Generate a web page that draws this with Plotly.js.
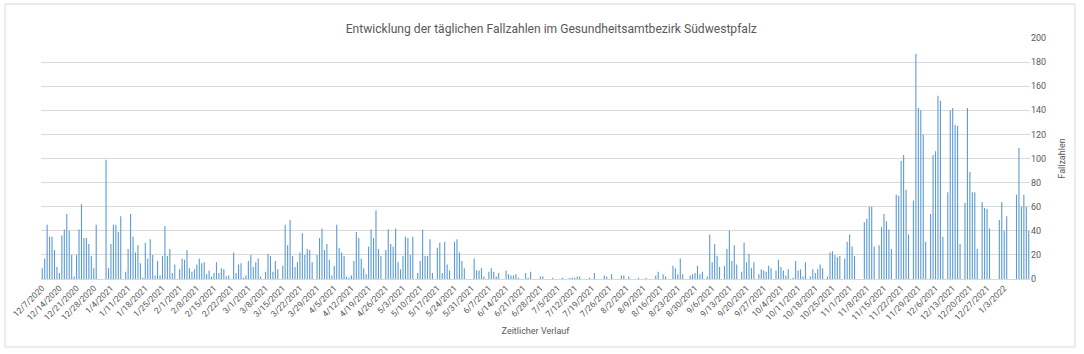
<!DOCTYPE html>
<html>
<head>
<meta charset="utf-8">
<script src="https://cdn.plot.ly/plotly-3.0.1.min.js"></script>
<style>
  html, body { margin: 0; padding: 0; background: #ffffff; }
  #chart { width: 1084px; height: 354px; }
</style>
</head>
<body>
<div id="chart"></div>
<script>
// First reporting day; one bar per day follows it.
const startYear = 2020, startMonth = 12, startDay = 7;

// Daily case numbers, one row per week (Mon..Sun)
const dailyCases = [
  9, 17, 45, 35, 35, 24, 10,
  5, 36, 41, 54, 40, 20, 2,
  20, 41, 62, 34, 34, 29, 19,
  9, 45, 0, 0, 0, 99, 9,
  29, 45, 45, 39, 52, 0, 6,
  25, 54, 35, 22, 28, 13, 1,
  30, 17, 33, 20, 3, 15, 3,
  19, 44, 19, 25, 5, 12, 0,
  8, 17, 16, 24, 9, 6, 8,
  12, 17, 13, 14, 4, 7, 2,
  5, 14, 5, 9, 8, 2, 3,
  0, 22, 5, 12, 13, 1, 3,
  15, 20, 10, 14, 17, 2, 0,
  6, 21, 19, 6, 15, 8, 0,
  11, 45, 28, 49, 19, 10, 14,
  22, 38, 20, 25, 24, 14, 0,
  20, 34, 42, 24, 29, 16, 3,
  11, 45, 26, 22, 19, 2, 1,
  3, 15, 39, 34, 17, 9, 4,
  27, 41, 34, 57, 25, 19, 0,
  24, 41, 29, 27, 42, 14, 8,
  19, 35, 34, 20, 35, 0, 5,
  15, 41, 19, 19, 33, 5, 0,
  26, 30, 5, 31, 12, 7, 0,
  31, 33, 22, 15, 9, 0, 0,
  0, 17, 7, 7, 9, 2, 0,
  6, 9, 6, 2, 5, 0, 0,
  7, 4, 3, 3, 4, 1, 0,
  0, 5, 1, 6, 0, 0, 0,
  2, 2, 0, 0, 0, 1, 0,
  0, 0, 1, 0, 0, 1, 1,
  1, 2, 2, 0, 0, 0, 1,
  0, 5, 0, 0, 0, 3, 2,
  0, 4, 0, 0, 0, 3, 3,
  0, 2, 0, 0, 0, 1, 0,
  0, 1, 0, 0, 0, 3, 6,
  0, 4, 2, 0, 0, 11, 9,
  4, 17, 4, 0, 0, 3, 4,
  5, 11, 4, 6, 0, 2, 37,
  14, 29, 19, 10, 0, 11, 25,
  40, 15, 28, 12, 0, 6, 30,
  14, 21, 9, 14, 0, 4, 8,
  7, 6, 11, 9, 0, 7, 16,
  10, 7, 3, 8, 0, 1, 15,
  7, 8, 2, 14, 0, 2, 8,
  5, 8, 12, 9, 0, 2, 22,
  23, 20, 18, 19, 0, 17, 31,
  37, 27, 19, 0, 0, 0, 47,
  50, 60, 60, 27, 0, 28, 43,
  54, 48, 41, 25, 0, 70, 69,
  98, 103, 74, 37, 0, 65, 187,
  142, 140, 120, 31, 0, 54, 103,
  106, 152, 148, 35, 0, 72, 140,
  142, 128, 127, 29, 0, 63, 142,
  89, 72, 72, 25, 0, 64, 59,
  58, 42, 0, 0, 0, 49, 64,
  40, 52, 0, 0, 0, 70, 109,
  60, 70, 60, 40
];

// Weekly tick labels shown on the category axis
const tickLabels = [
  '12/7/2020', '12/14/2020', '12/21/2020', '12/28/2020', '1/4/2021', '1/11/2021',
  '1/18/2021', '1/25/2021', '2/1/2021', '2/8/2021', '2/15/2021', '2/22/2021',
  '3/1/2021', '3/8/2021', '3/15/2021', '3/22/2021', '3/29/2021', '4/5/2021',
  '4/12/2021', '4/19/2021', '4/26/2021', '5/3/2021', '5/10/2021', '5/17/2021',
  '5/24/2021', '5/31/2021', '6/7/2021', '6/14/2021', '6/21/2021', '6/28/2021',
  '7/5/2021', '7/12/2021', '7/19/2021', '7/26/2021', '8/2/2021', '8/9/2021',
  '8/16/2021', '8/23/2021', '8/30/2021', '9/6/2021', '9/13/2021', '9/20/2021',
  '9/27/2021', '10/4/2021', '10/11/2021', '10/18/2021', '10/25/2021', '11/1/2021',
  '11/8/2021', '11/15/2021', '11/22/2021', '11/29/2021', '12/6/2021', '12/13/2021',
  '12/20/2021', '12/27/2021', '1/3/2022'
];

const chartTitle = 'Entwicklung der täglichen Fallzahlen im Gesundheitsamtbezirk Südwestpfalz';
const xTitle = 'Zeitlicher Verlauf';
const yTitle = 'Fallzahlen';

// Day categories (M/D/YYYY), one per value
const days = dailyCases.map((_, i) => {
  const d = new Date(Date.UTC(startYear, startMonth - 1, startDay + i));
  return (d.getUTCMonth() + 1) + '/' + d.getUTCDate() + '/' + d.getUTCFullYear();
});

const textColor = '#595959';
const gridColor = '#d9d9d9';
const font = 'Roboto, "Open Sans", sans-serif';

const trace = {
  type: 'bar',
  x: days,
  y: dailyCases,
  marker: { color: '#5b9bd5', line: { width: 0 } },
  hoverinfo: 'x+y'
};

const layout = {
  width: 1084,
  height: 354,
  margin: { l: 41, r: 54, t: 38, b: 75 },
  paper_bgcolor: '#ffffff',
  plot_bgcolor: '#ffffff',
  showlegend: false,
  bargap: 0.55,
  font: { family: font, color: textColor, size: 9 },
  title: {
    text: chartTitle,
    font: { family: font, size: 12.1, color: textColor },
    x: 0.516, xref: 'paper', xanchor: 'center',
    y: 1, yref: 'container', yanchor: 'top', pad: { t: 25 }
  },
  xaxis: {
    type: 'category',
    tickmode: 'array',
    tickvals: tickLabels,
    ticktext: tickLabels,
    tickangle: -45,
    tickfont: { family: font, size: 8.5, color: textColor },
    showgrid: false,
    showline: true,
    linecolor: gridColor,
    linewidth: 1,
    ticks: '',
    zeroline: false,
    title: { text: xTitle, font: { family: font, size: 9, color: textColor }, standoff: 6 }
  },
  yaxis: {
    side: 'right',
    range: [0, 200],
    dtick: 20,
    tick0: 0,
    showgrid: true,
    gridcolor: gridColor,
    gridwidth: 1,
    zeroline: false,
    showline: false,
    ticks: '',
    tickfont: { family: font, size: 9, color: textColor },
    title: { text: yTitle, font: { family: font, size: 9, color: textColor }, standoff: 13 }
  },
  shapes: [{
    type: 'rect', xref: 'paper', yref: 'paper',
    x0: -0.0364, x1: 1.0455, y0: -0.282, y1: 1.141,
    line: { color: '#d9d9d9', width: 1 }, fillcolor: 'rgba(0,0,0,0)', layer: 'below'
  }]
};

Plotly.newPlot('chart', [trace], layout, { staticPlot: true, displayModeBar: false });
</script>
</body>
</html>
